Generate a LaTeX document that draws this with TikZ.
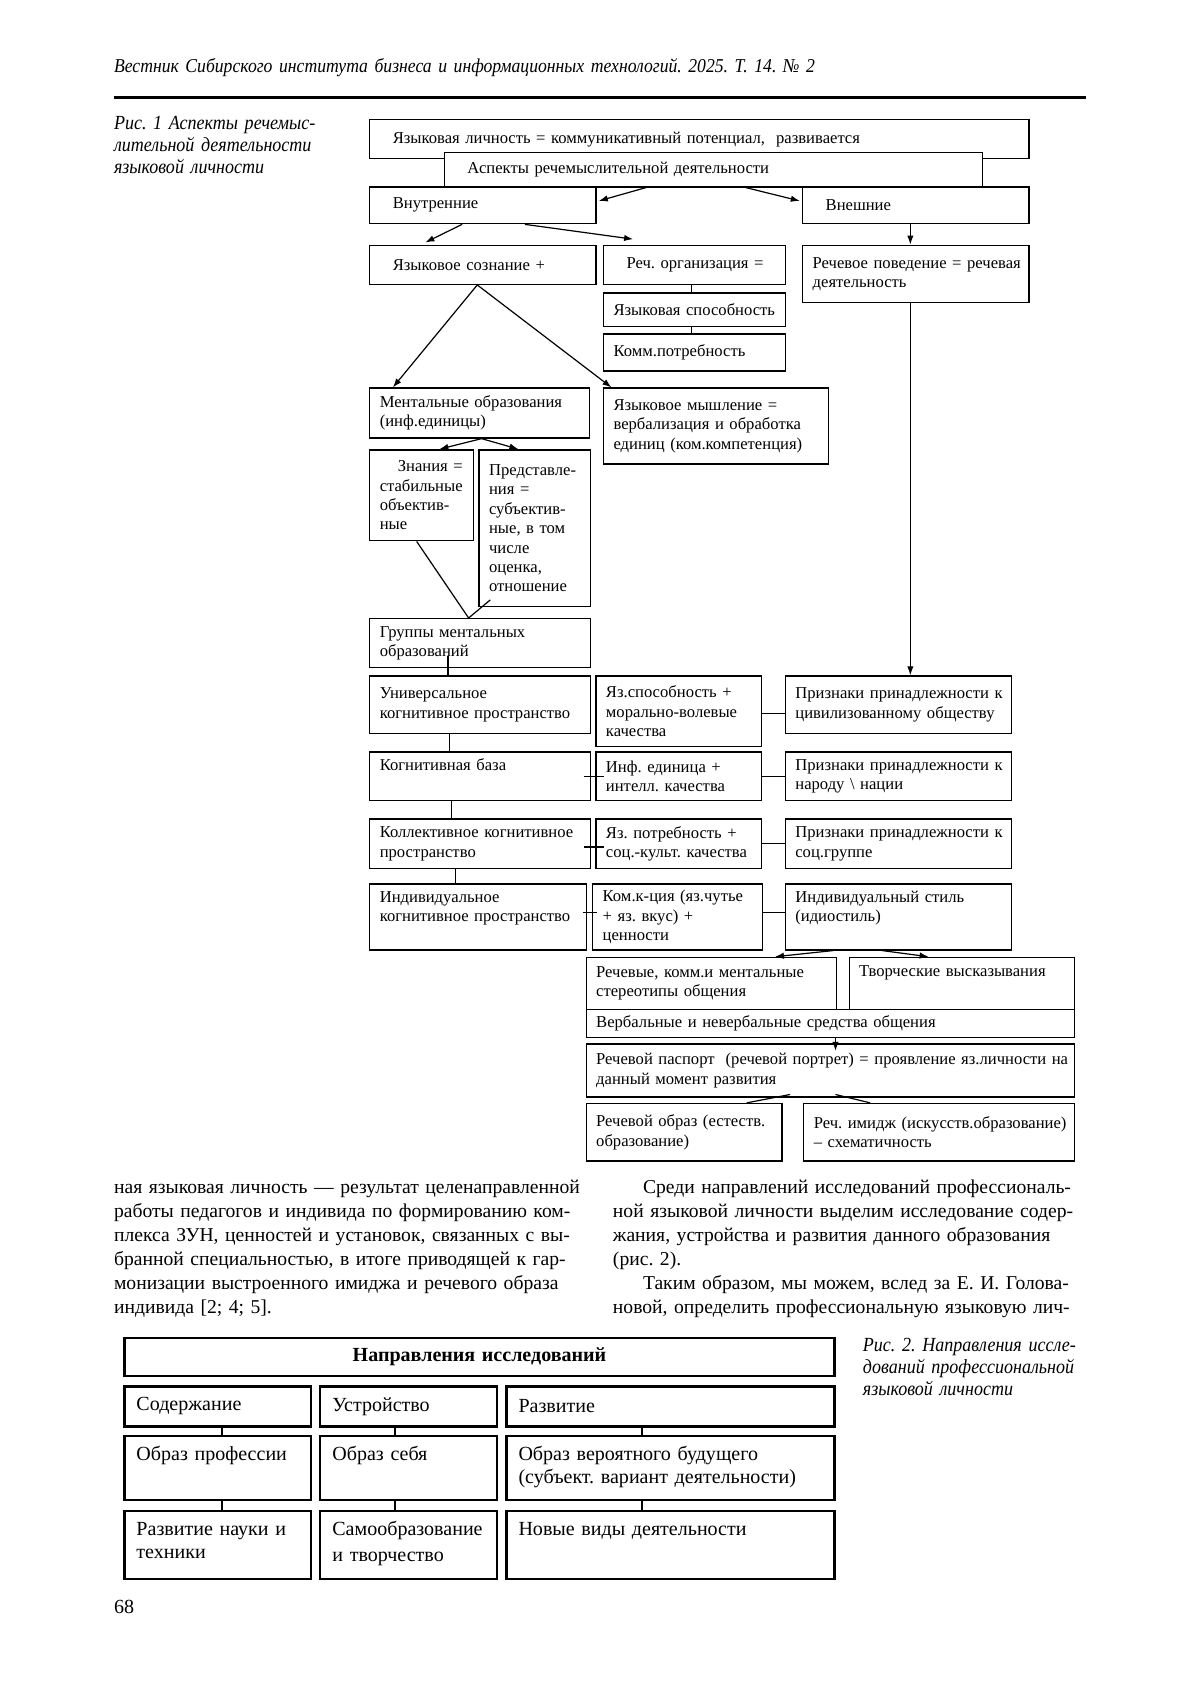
\documentclass[tikz,border=0pt]{standalone}
\usepackage{fontspec}
\setmainfont{Liberation Serif}
\newfontfamily\condit{Liberation Serif}[FakeStretch=0.9]
\usetikzlibrary{arrows.meta}
\def\px{0.019cm}
\newcommand\jl[1]{\makebox[\linewidth][s]{#1}}
\frenchspacing
\tikzset{
  bx/.style 2 args={draw, line width=0.7pt, fill=white, anchor=north west,
    align=left, inner xsep=5pt, inner ysep=1pt,
    minimum width=#1*\px, minimum height=#2*\px, text width=#1*\px-10pt,
    font=\fontsize{8.3}{9.7}\selectfont},
  bxi/.style 2 args={bx={#1}{#2}, inner xsep=11.5pt, text width=#1*\px-23pt},
  topbox/.style={inner ysep=3pt, text height=6.3pt, text depth=#1*\px-12.3pt},
  fb/.style 2 args={draw, line width=1.1pt, fill=white, anchor=north west,
    align=left, inner xsep=6pt, inner ysep=1pt,
    minimum width=#1*\px, minimum height=#2*\px, text width=#1*\px-12pt,
    font=\fontsize{10}{11.4}\selectfont},
  ftop/.style={inner ysep=5pt, text height=7.3pt, text depth=#1*\px-17.3pt},
  capt/.style={anchor=base west, align=left, inner sep=0pt, text width=240*\px,
    font=\fontsize{10}{10.8}\selectfont\condit\itshape},
  body/.style={anchor=base west, align=left, inner sep=0pt, text width=437*\px,
    font=\fontsize{9.8}{12}\selectfont},
  con/.style={line width=0.6pt},
  arr/.style={con, -{Latex[length=4.5pt,width=3.2pt]}},
}
\begin{document}
\begin{tikzpicture}[x=\px, y=-\px]
\fill[white] (0,0) rectangle (1109,1568);
% header
\node[capt, text width=900*\px, font=\fontsize{9.8}{12}\selectfont\condit\itshape] (head) at (105,67)
  {Вестник Сибирского института бизнеса и информационных технологий. 2025. Т. 14. № 2};
\draw[line width=1.4pt] (105,90) -- (1003,90);
\node[capt] (cap1) at (105,120) {Рис. 1 Аспекты речемыс-\\лительной деятельности\\языковой личности};

% fig. 1
\node[bxi={609}{36}] (lp) at (341,110) {\mbox{Языковая личность = коммуникативный потенциал,\ \ развивается}};
\node[bxi={497}{32}] (asp) at (410,140) {\mbox{Аспекты речемыслительной деятельности}};
\node[bxi={209}{34}] (vnu) at (341,172) {Внутренние};
\node[bxi={209}{34}] (vne) at (741,172) {Внешние};
\node[bxi={209}{36}] (soz) at (341,226) {\mbox{Языковое сознание +}};
\node[bxi={168}{36}] (org) at (557,226) {\mbox{Реч. организация =}};
\node[bx={209}{53}] (pov) at (741,226) {\mbox{Речевое поведение = речевая}\\деятельность};
\node[bx={168}{31}] (spo) at (557,270) {\mbox{Языковая способность}};
\node[bx={168}{34}] (pot) at (557,308) {Комм.потребность};
\node[bx={203}{46}] (men) at (341,358) {\mbox{Ментальные образования}\\(инф.единицы)};
\node[bx={208}{70}] (mys) at (557,358) {\jl{Языковое мышление =}\\\jl{вербализация и обработка}\\\mbox{единиц (ком.компетенция)}};
\node[bx={96}{84}] (zna) at (341,415) {\jl{\hspace*{9pt}Знания =}\\стабильные\\объектив-\\ные};
\node[bx={103}{145}] (pre) at (442,415) {Представле-\\\jl{ния =}\\субъектив-\\\jl{ные, в том}\\числе\\оценка,\\отношение};
\node[bx={204}{45}] (gru) at (341,571) {Группы ментальных\\образований};
\node[bx={204}{53}] (uni) at (341,624) {Универсальное\\\mbox{когнитивное пространство}};
\node[bx={153}{65}] (s1) at (550,624) {Яз.способность +\\\mbox{морально-волевые}\\качества};
\node[bx={209}{53}] (p1) at (725,624) {\jl{Признаки принадлежности к}\\\jl{цивилизованному обществу}};
\node[bx={204}{45}, topbox=45] (kb) at (341,694) {Когнитивная база};
\node[bx={153}{45}] (s2) at (550,694) {Инф. единица +\\интелл. качества};
\node[bx={209}{45}] (p2) at (725,694) {\jl{Признаки принадлежности к}\\народу \textbackslash\ нации};
\node[bx={204}{46}] (kol) at (341,756) {\mbox{Коллективное когнитивное}\\пространство};
\node[bx={153}{46}] (s3) at (550,756) {Яз. потребность +\\\mbox{соц.-культ. качества}};
\node[bx={209}{46}] (p3) at (725,756) {\jl{Признаки принадлежности к}\\соц.группе};
\node[bx={200}{61}, topbox=61] (ind) at (341,816) {Индивидуальное\\\mbox{когнитивное пространство}};
\node[bx={157}{61}] (s4) at (547,816) {\mbox{Ком.к-ция (яз.чутье}\\+ яз. вкус) +\\ценности};
\node[bx={209}{61}, topbox=61] (p4) at (725,816) {\mbox{Индивидуальный стиль}\\(идиостиль)};
\node[bx={231}{48}] (ste) at (541,884) {\mbox{Речевые, комм.и ментальные}\\стереотипы общения};
\node[bx={208}{48}, topbox=48] (tvo) at (784,884) {\mbox{Творческие высказывания}};
\node[bx={451}{26}] (ver) at (541,932) {\mbox{Вербальные и невербальные средства общения}};
\node[bx={451}{49}] (pas) at (541,964) {\mbox{Речевой паспорт\ \ (речевой портрет) = проявление яз.личности на}\\данный момент развития};
\node[bx={181}{53}] (obr) at (541,1019) {\mbox{Речевой образ (естеств.}\\образование)};
\node[bx={250}{53}] (imi) at (742,1019) {\mbox{Реч. имидж (искусств.образование)}\\– схематичность};

\draw[arr] ([shift={(187,0)}]asp.south west) -- ([shift={(2,-4)}]vnu.east);
\draw[arr] ([shift={(279,0)}]asp.south west) -- ([shift={(-2,-4)}]vne.west);
\draw[arr] ([shift={(86,0)}]vnu.south west) -- ([shift={(52,-2)}]soz.north west);
\draw[arr] ([shift={(144,0)}]vnu.south west) -- ([shift={(28,-5)}]org.north west);
\draw[arr] ([shift={(-5,0)}]vne.south) -- ([shift={(-5,0)}]vne.south |- pov.north);
\draw[con] ([shift={(-3,0)}]org.south) -- ([shift={(-3,0)}]spo.north);
\draw[con] ([shift={(-3,0)}]spo.south) -- ([shift={(-3,0)}]pot.north);
\draw[arr] ([shift={(100,0)}]soz.south west) -- ([shift={(22,0)}]men.north west);
\draw[arr] ([shift={(100,0)}]soz.south west) -- ([shift={(8,0)}]mys.north west);
\draw[arr] ([shift={(104,0)}]men.south west) -- ([shift={(65,0)}]zna.north west);
\draw[arr] ([shift={(104,0)}]men.south west) -- ([shift={(37,0)}]pre.north west);
\draw[con] ([shift={(44,0)}]zna.south west) -- ([shift={(92,0)}]gru.north west);
\draw[con] ([shift={(11,-7)}]pre.south west) -- ([shift={(92,0)}]gru.north west);
\draw[con] ([shift={(73,-11)}]gru.south west) -- ([shift={(73,0)}]uni.north west);
\draw[arr] ([shift={(-5,0)}]pov.south) -- ([shift={(-5,0)}]pov.south |- p1.north);
\draw[con] ([shift={(74,0)}]uni.south west) -- ([shift={(74,0)}]kb.north west);
\draw[con] ([shift={(76,0)}]kb.south west) -- ([shift={(76,0)}]kol.north west);
\draw[con] ([shift={(80,0)}]kol.south west) -- ([shift={(80,0)}]ind.north west);
\draw[con] ([shift={(0,35)}]s1.north east) -- ([shift={(0,35)}]p1.north west);
\draw[con] ([shift={(-7,0)}]kb.east) -- ([shift={(8,0)}]s2.west);
\draw[con] (s2.east) -- (p2.west);
\draw[con] ([shift={(-7,3)}]kol.east) -- ([shift={(8,3)}]s3.west);
\draw[con] (s3.east) -- (p3.west);
\draw[con] ([shift={(-4,-4)}]ind.east) -- ([shift={(5,-4)}]s4.west);
\draw[con] ([shift={(0,-4)}]s4.east) -- ([shift={(0,-4)}]p4.west);
\draw[arr] ([shift={(45,0)}]p4.south west) -- ([shift={(175,0)}]ste.north west);
\draw[arr] ([shift={(90,0)}]p4.south west) -- ([shift={(74,0)}]tvo.north west);
\draw[arr] ([shift={(231,0)}]ver.south west) -- ([shift={(231,7)}]pas.north west);
\draw[con] ([shift={(189,-3)}]pas.south west) -- ([shift={(149,0)}]obr.north west);
\draw[con] ([shift={(231,-3)}]pas.south west) -- ([shift={(62,0)}]imi.north west);

% text columns
\node[body] (txtl) at (105,1103) {%
\jl{ная языковая личность — результат целенаправленной}\\
\jl{работы педагогов и индивида по формированию ком-}\\
\jl{плекса ЗУН, ценностей и установок, связанных с вы-}\\
\jl{бранной специальностью, в итоге приводящей к гар-}\\
\jl{монизации выстроенного имиджа и речевого образа}\\
\mbox{индивида [2; 4; 5].}};
\node[body] (txtr) at (566,1103) {%
\jl{\hspace*{15pt}Среди направлений исследований профессиональ-}\\
\jl{ной языковой личности выделим исследование содер-}\\
\jl{жания, устройства и развития данного образования}\\
\mbox{(рис. 2).}\\
\jl{\hspace*{15pt}Таким образом, мы можем, вслед за Е. И. Голова-}\\
\jl{новой, определить профессиональную языковую лич-}};

% fig. 2
\node[fb={656}{35}, align=center, font=\fontsize{10}{11.4}\selectfont\bfseries] (napr) at (114,1235) {Направления исследований};
\node[fb={172}{37}] (sod) at (114,1280) {Содержание};
\node[fb={163}{37}] (ust) at (295,1280) {Устройство};
\node[fb={303}{37}] (raz) at (467,1280) {Развитие};
\node[fb={172}{59}, ftop=59] (obp) at (114,1326) {Образ профессии};
\node[fb={163}{59}, ftop=59] (obs) at (295,1326) {Образ себя};
\node[fb={303}{59}, ftop=59] (obb) at (467,1326) {Образ вероятного будущего\\\mbox{(субъект. вариант деятельности)}};
\node[fb={172}{63}, ftop=63] (rnt) at (114,1395) {Развитие науки и\\техники};
\node[fb={163}{63}, ftop=63] (sam) at (295,1395) {Самообразование\\[1.5pt]и творчество};
\node[fb={303}{63}, ftop=63] (nov) at (467,1395) {Новые виды деятельности};
\foreach \a/\b/\d in {sod/obp/91, ust/obs/70, raz/obb/126, obp/rnt/91, obs/sam/70, obb/nov/126}
  \draw[line width=1pt] ([shift={(\d,0)}]\a.south west) -- ([shift={(\d,0)}]\b.north west);
\node[capt] (cap2) at (797,1249) {Рис. 2. Направления иссле-\\дований профессиональной\\языковой личности};

\node[capt, font=\fontsize{10}{12}\selectfont] (page) at (105,1491) {68};
\end{tikzpicture}
\end{document}
